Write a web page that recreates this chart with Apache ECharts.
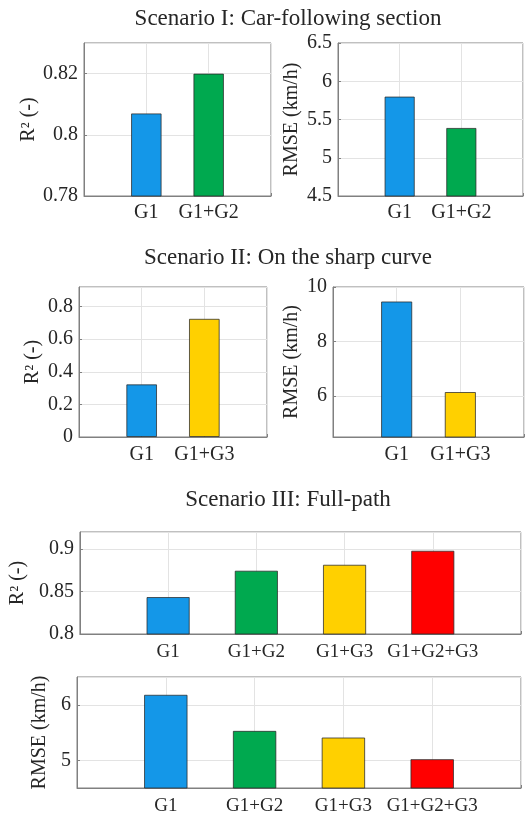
<!DOCTYPE html>
<html>
<head>
<meta charset="utf-8">
<script src="https://cdn.jsdelivr.net/npm/echarts@6/dist/echarts.min.js"></script>
<style>
html,body{margin:0;padding:0;background:#fff;}
#chart{width:528px;height:816px;}
</style>
</head>
<body>
<div id="chart"></div>
<script>
// ---- data ----
const titles = ['Scenario I: Car-following section', 'Scenario II: On the sharp curve', 'Scenario III: Full-path'];
const catsS1 = ['G1', 'G1+G2'];
const catsS2 = ['G1', 'G1+G3'];
const catsS3 = ['G1', 'G1+G2', 'G1+G3', 'G1+G2+G3'];
const r2S1 = [0.807, 0.820];
const rmseS1 = [5.80, 5.39];
const r2S2 = [0.323, 0.725];
const rmseS2 = [9.47, 6.15];
const r2S3 = [0.8435, 0.8745, 0.8815, 0.898];
const rmseS3 = [6.18, 5.53, 5.41, 5.02];
const nameR2 = 'R² (-)';
const nameRMSE = 'RMSE (km/h)';

const colorMap = {'G1': '#1497e8', 'G1+G2': '#00a94f', 'G1+G3': '#ffd000', 'G1+G2+G3': '#ff0000'};
const FONT = '"Liberation Serif", "Times New Roman", serif';
const TXT = '#262626';
const BOX = '#808080';
const GRIDC = '#e3e3e3';
const FS = 20;

const panels = [
  {grid: {left: 84, right: 257, top: 43, height: 153}, cats: catsS1, vals: r2S1, name: nameR2, nameGap: 42,
   y: {min: 0.78, max: 0.83, interval: 0.02}, hideMin: false, hideMax: true, labelMargin: 7, xfs: 20},
  {grid: {left: 338, right: 5, top: 43, height: 153}, cats: catsS1, vals: rmseS1, name: nameRMSE, nameGap: 36,
   y: {min: 4.5, max: 6.5, interval: 0.5}, hideMin: false, hideMax: false, labelMargin: 7, xfs: 20},
  {grid: {left: 79, right: 261, top: 287, height: 150}, cats: catsS2, vals: r2S2, name: nameR2, nameGap: 36,
   y: {min: 0, max: 0.92, interval: 0.2}, hideMin: false, hideMax: true, labelMargin: 8, xfs: 20},
  {grid: {left: 333, right: 4, top: 287, height: 150}, cats: catsS2, vals: rmseS2, name: nameRMSE, nameGap: 31,
   y: {min: 4.5, max: 10, splitNumber: 3}, hideMin: true, hideMax: false, labelMargin: 8, xfs: 20},
  {grid: {left: 77, right: 7, top: 532, height: 102}, cats: catsS3, vals: r2S3, name: nameR2, nameGap: 42,
   y: {min: 0.8, max: 0.92, interval: 0.05}, hideMin: false, hideMax: true, labelMargin: 9, xfs: 19},
  {grid: {left: 77, right: 7, top: 677, height: 112}, cats: catsS3, vals: rmseS3, name: nameRMSE, nameGap: 22,
   y: {min: 4.5, max: 6.5, splitNumber: 2}, hideMin: true, hideMax: true, labelMargin: 9, xfs: 19}
];

const grids = [], xAxes = [], yAxes = [], series = [];
panels.forEach((p, i) => {
  grids.push(Object.assign({show: true, borderColor: BOX, borderWidth: 1, backgroundColor: '#fff'}, p.grid));
  xAxes.push({
    type: 'category', gridIndex: i, boundaryGap: false,
    data: [''].concat(p.cats).concat(['']),
    axisLine: {show: true, lineStyle: {color: BOX, width: 1}},
    axisTick: {show: true, inside: true, length: 3, lineStyle: {color: BOX}},
    axisLabel: {color: TXT, fontFamily: FONT, fontSize: p.xfs, margin: p.labelMargin, interval: 0},
    splitLine: {show: true, lineStyle: {color: GRIDC, width: 1}}
  });
  yAxes.push(Object.assign({
    type: 'value', gridIndex: i,
    name: p.name, nameLocation: 'middle', nameGap: p.nameGap,
    nameTextStyle: {color: TXT, fontFamily: FONT, fontSize: FS},
    axisLine: {show: true, lineStyle: {color: BOX, width: 1}},
    axisTick: {show: true, inside: true, length: 3, lineStyle: {color: BOX}},
    axisLabel: {color: TXT, fontFamily: FONT, fontSize: FS, margin: 6, showMinLabel: !p.hideMin, showMaxLabel: !p.hideMax},
    splitLine: {show: true, lineStyle: {color: GRIDC, width: 1}}
  }, p.y));
  series.push({
    type: 'bar', xAxisIndex: i, yAxisIndex: i, barWidth: '49%',
    data: ['-'].concat(p.vals.map((v, k) => ({value: v, itemStyle: {color: colorMap[p.cats[k]]}}))).concat(['-']),
    itemStyle: {borderColor: 'rgba(40,40,40,0.75)', borderWidth: 1},
    silent: true, animation: false
  });
});

const titleY = [19, 258, 500];
const graphics = titles.map((t, i) => ({
  type: 'text', x: 288, y: titleY[i],
  style: {text: t, fill: TXT, font: '23px ' + FONT, textAlign: 'center', textVerticalAlign: 'middle'}
}));

const chart = echarts.init(document.getElementById('chart'), null, {renderer: 'canvas'});
chart.setOption({
  animation: false,
  grid: grids, xAxis: xAxes, yAxis: yAxes, series: series,
  graphic: graphics
});
</script>
</body>
</html>
